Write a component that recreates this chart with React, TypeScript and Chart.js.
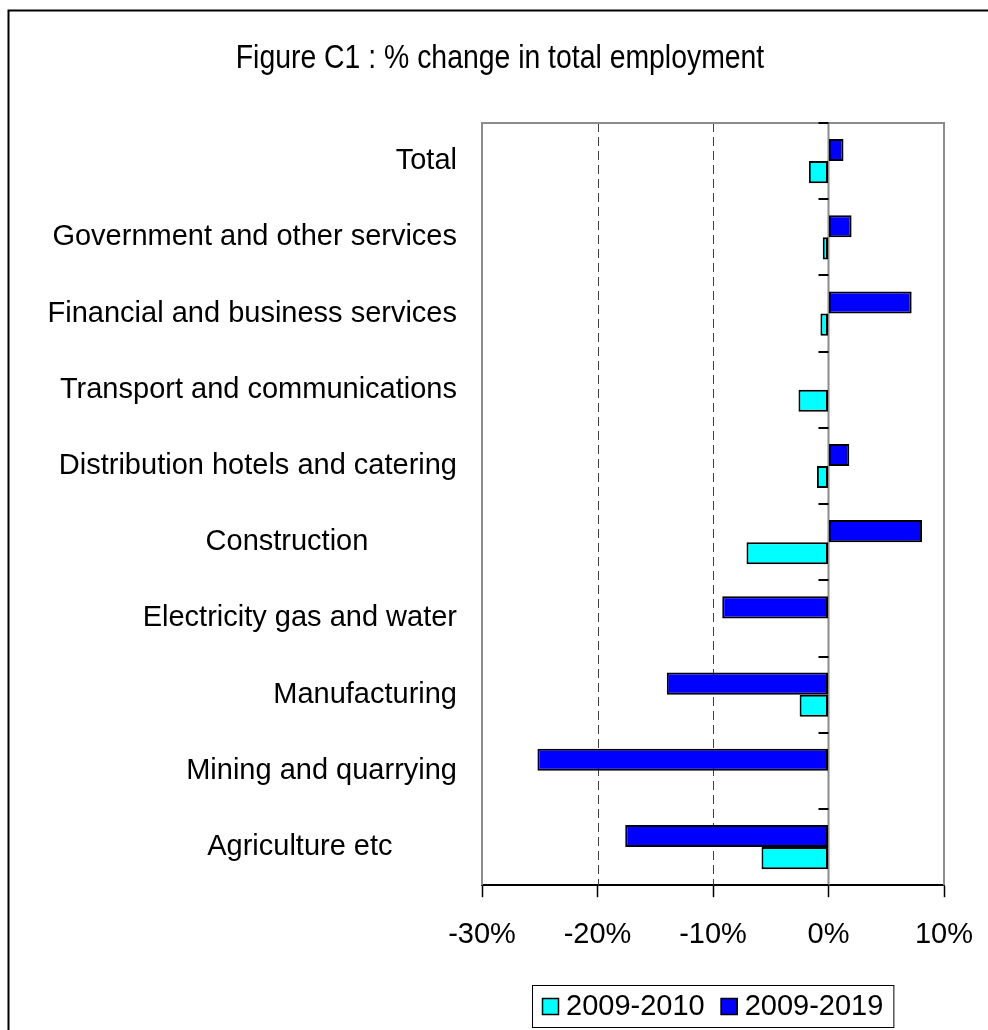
import React, { useEffect, useRef } from 'react';
import { Chart, registerables } from 'chart.js';

Chart.register(...registerables);

const categories = [
  'Total',
  'Government and other services',
  'Financial and business services',
  'Transport and communications',
  'Distribution hotels and catering',
  'Construction',
  'Electricity gas and water',
  'Manufacturing',
  'Mining and quarrying',
  'Agriculture etc',
];
const seriesLabels = ['2009-2010', '2009-2019'];
const change2009to2010 = [-1.7, -0.5, -0.7, -2.6, -1.0, -7.1, 0, -2.5, 0, -5.8];
const change2009to2019 = [1.3, 2.0, 7.2, 0, 1.8, 8.1, -9.2, -14.0, -25.2, -17.6];
const xTickValues = [-30, -20, -10, 0, 10];
const xTickLabels = ['-30%', '-20%', '-10%', '0%', '10%'];
const titleText = 'Figure C1 : % change in total employment';

const FONT = '"Liberation Sans", Arial, sans-serif';
const FS = 29;
// Excel-style label indent (trailing spaces) for labels that sit left of the others
const labelIndent: Record<string, number> = { Construction: 11, 'Agriculture etc': 8 };

export default function App() {
  const ref = useRef<HTMLCanvasElement>(null);

  useEffect(() => {
    const canvas = ref.current;
    if (!canvas) return;

    const decor = {
      id: 'decor',
      beforeDatasetsDraw(chart: any) {
        const { ctx, chartArea: a, scales } = chart;
        const x = scales.x;
        const y = scales.y;
        ctx.save();
        // dashed vertical grid lines
        ctx.strokeStyle = '#404040';
        ctx.lineWidth = 1;
        ctx.setLineDash([9, 5]);
        xTickValues.forEach((v) => {
          if (v === x.min || v === x.max || v === 0) return;
          const px = Math.round(x.getPixelForValue(v)) + 0.5;
          ctx.beginPath();
          ctx.moveTo(px, a.top);
          ctx.lineTo(px, a.bottom);
          ctx.stroke();
        });
        ctx.setLineDash([]);
        // plot area border (gray)
        ctx.strokeStyle = '#8c8c8c';
        ctx.lineWidth = 2;
        ctx.beginPath();
        ctx.moveTo(a.left, a.bottom);
        ctx.lineTo(a.left, a.top);
        ctx.lineTo(a.right, a.top);
        ctx.lineTo(a.right, a.bottom);
        ctx.stroke();
        // zero line
        const x0 = x.getPixelForValue(0);
        ctx.beginPath();
        ctx.moveTo(x0, a.top);
        ctx.lineTo(x0, a.bottom);
        ctx.stroke();
        // category tick marks on the zero line
        ctx.strokeStyle = '#000';
        ctx.lineWidth = 2;
        ctx.beginPath();
        for (let i = 0; i <= categories.length; i++) {
          const py = Math.round(y.getPixelForValue(i - 0.5));
          ctx.moveTo(x0 - 10, py);
          ctx.lineTo(x0, py);
        }
        ctx.stroke();
        ctx.restore();
      },
      afterDraw(chart: any) {
        const { ctx, chartArea: a, width, height } = chart;
        ctx.save();
        // outer frame (left and top visible)
        ctx.strokeStyle = '#000';
        ctx.lineWidth = 2;
        ctx.beginPath();
        ctx.moveTo(8.5, height + 10);
        ctx.lineTo(8.5, 10.5);
        ctx.lineTo(width + 10, 10.5);
        ctx.stroke();

        // title (slightly condensed, as in the original)
        ctx.save();
        ctx.translate(500, 68);
        ctx.scale(0.86, 1);
        ctx.font = `33px ${FONT}`;
        ctx.fillStyle = '#000';
        ctx.textAlign = 'center';
        ctx.textBaseline = 'alphabetic';
        ctx.fillText(titleText, 0, 0);
        ctx.restore();

        // legend
        const ds = chart.data.datasets;
        ctx.font = `${FS}px ${FONT}`;
        const widths = ds.map((d: any) => ctx.measureText(d.label).width);
        const sq = 17;
        const gapSq = 7;
        const gapItem = 16;
        const pad = 10;
        const total =
          pad * 2 +
          widths.reduce((s: number, w: number) => s + w, 0) +
          ds.length * (sq + gapSq) +
          gapItem * (ds.length - 1);
        const h = 42;
        const left = Math.round((a.left + a.right) / 2 - total / 2);
        const top = Math.round(a.bottom + 100);
        ctx.lineWidth = 1;
        ctx.strokeStyle = '#000';
        ctx.strokeRect(left + 0.5, top + 0.5, total, h);
        let cx = left + pad;
        const cy = top + h / 2;
        ds.forEach((d: any, i: number) => {
          ctx.fillStyle = d.backgroundColor;
          ctx.fillRect(cx, Math.round(cy - sq / 2), sq, sq);
          ctx.lineWidth = 1.5;
          ctx.strokeStyle = '#000';
          ctx.strokeRect(cx + 0.5, Math.round(cy - sq / 2) + 0.5, sq - 1, sq - 1);
          cx += sq + gapSq;
          ctx.fillStyle = '#000';
          ctx.textAlign = 'left';
          ctx.textBaseline = 'middle';
          ctx.fillText(d.label, cx, cy + 1);
          cx += widths[i] + gapItem;
        });
        ctx.restore();
      },
    };

    const chart = new Chart(canvas, {
      type: 'bar',
      data: {
        labels: categories,
        datasets: [
          {
            label: seriesLabels[0],
            data: change2009to2010,
            backgroundColor: '#00FFFF',
            borderColor: '#000000',
            borderWidth: 2,
            borderSkipped: false,
            order: 1,
            categoryPercentage: 0.58,
            barPercentage: 1,
          },
          {
            label: seriesLabels[1],
            data: change2009to2019,
            backgroundColor: '#0000FF',
            borderColor: '#000000',
            borderWidth: 2,
            borderSkipped: false,
            order: 0,
            categoryPercentage: 0.58,
            barPercentage: 1,
          },
        ],
      },
      options: {
        indexAxis: 'y',
        animation: false,
        responsive: false,
        devicePixelRatio: 1,
        layout: { padding: { left: 0, right: 44, top: 123, bottom: 58 } },
        plugins: {
          legend: { display: false },
          tooltip: { enabled: false },
          title: { display: false },
        },
        scales: {
          x: {
            type: 'linear',
            min: -30,
            max: 10,
            afterFit: (scale: any) => {
              scale.paddingLeft = 0;
              scale.paddingRight = 0;
            },
            grid: {
              display: true,
              drawOnChartArea: false,
              drawTicks: true,
              tickLength: 12,
              tickColor: '#000',
              tickWidth: 1.5,
            },
            border: { display: true, color: '#000', width: 2 },
            ticks: {
              stepSize: 10,
              maxRotation: 0,
              padding: 20,
              color: '#000',
              font: { family: FONT, size: FS },
              callback: (v: any) => {
                const i = xTickValues.indexOf(Number(v));
                return i >= 0 ? xTickLabels[i] : '';
              },
            },
          },
          y: {
            type: 'category',
            grid: { display: false, drawTicks: false },
            border: { display: false },
            afterFit: (scale: any) => {
              scale.width = 482;
            },
            ticks: {
              autoSkip: false,
              padding: 25,
              color: '#000',
              font: { family: FONT, size: FS },
              callback: (_v: any, i: number) => {
                const name = categories[i];
                return name + ' '.repeat(labelIndent[name] || 0);
              },
            },
          },
        },
      },
      plugins: [decor],
    } as any);

    return () => chart.destroy();
  }, []);

  return (
    <div style={{ position: 'fixed', left: 0, top: 0, width: 988, height: 1030, background: '#fff' }}>
      <canvas ref={ref} width={988} height={1030} style={{ display: 'block', width: 988, height: 1030 }} />
    </div>
  );
}
